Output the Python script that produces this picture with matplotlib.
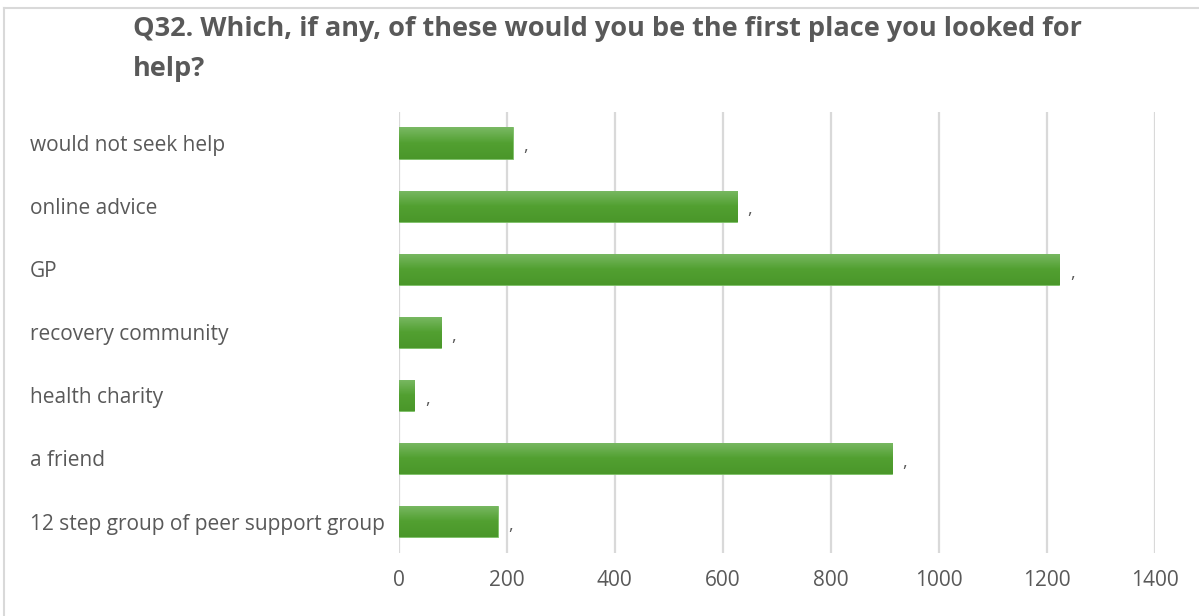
import numpy as np
import matplotlib.pyplot as plt
from matplotlib.colors import LinearSegmentedColormap
from matplotlib.transforms import blended_transform_factory
from matplotlib.lines import Line2D

categories = ['12 step group of peer support group', 'a friend', 'health charity',
              'recovery community', 'GP', 'online advice', 'would not seek help']
counts = [183, 913, 29, 78, 1223, 626, 211]
xticks = [0, 200, 400, 600, 800, 1000, 1200, 1400]

plt.rcParams['font.family'] = ['Open Sans', 'DejaVu Sans']
grey = '#595959'

fig = plt.figure(figsize=(11.99, 6.16), dpi=100)
ax = fig.add_axes([398.7/1199, 1-553/616, 756/1199, (553-111.7)/616])

# chart frame: top and left edges only
fig.lines.append(Line2D([4/1199, 1], [1-8/616, 1-8/616], transform=fig.transFigure,
                        color='#d9d9d9', linewidth=1.5))
fig.lines.append(Line2D([4/1199, 4/1199], [0, 1-8/616], transform=fig.transFigure,
                        color='#d9d9d9', linewidth=1.5))

y = np.arange(len(categories))
bars = ax.barh(y, counts, height=0.5, color='#55a034', edgecolor='#7cc066',
               linewidth=0.6, zorder=2)

# vertical gradient fill, lighter on top
cmap = LinearSegmentedColormap.from_list('g', ['#4a972a', '#52a031', '#7ab964'])
grad = np.linspace(0, 1, 64).reshape(-1, 1)
for b in bars:
    x0, y0 = b.get_x(), b.get_y()
    w, h = b.get_width(), b.get_height()
    im = ax.imshow(grad, cmap=cmap, aspect='auto', origin='lower',
                   extent=[x0, x0 + w, y0, y0 + h], zorder=2.5)
    im.set_clip_path(b)

for yi, v in zip(y, counts):
    ax.text(v + 20, yi - 0.13, ',', color=grey, fontsize=13, va='baseline', ha='left')

ax.set_xlim(0, 1400)
ax.set_ylim(-0.5, len(categories) - 0.5)
ax.set_xticks(xticks)
ax.tick_params(axis='x', length=0, pad=12, labelsize=15, labelcolor=grey)
ax.set_yticks([])
ax.grid(axis='x', color='#d9d9d9', linewidth=1.6, zorder=0)
ax.set_axisbelow(True)
for s in ax.spines.values():
    s.set_visible(False)

trans = blended_transform_factory(fig.transFigure, ax.transData)
for yi, c in zip(y, categories):
    ax.text(30/1199, yi - 0.04, c, transform=trans, ha='left', va='center',
            fontsize=15, color=grey)

fig.text(133/1199, 1-29/616, 'Q32. Which, if any, of these would you be the first place you looked for',
         fontsize=19.5, fontweight='bold', color=grey, va='center', ha='left')
fig.text(133/1199, 1-69/616, 'help?',
         fontsize=19.5, fontweight='bold', color=grey, va='center', ha='left')

fig.savefig('out.png', dpi=100)
